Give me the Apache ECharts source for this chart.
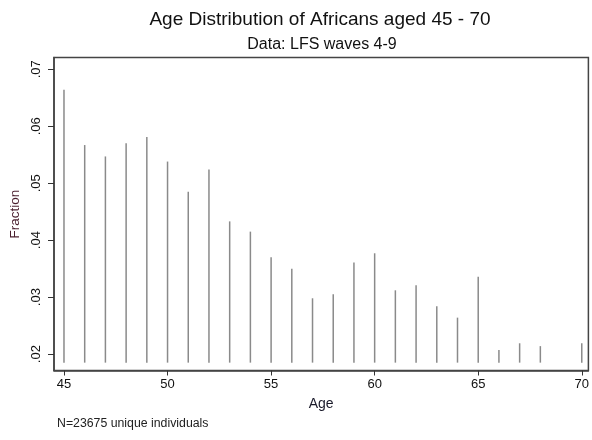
<!DOCTYPE html>
<html>
<head>
<meta charset="utf-8">
<script src="https://cdn.jsdelivr.net/npm/echarts@6/dist/echarts.min.js"></script>
<style>html,body{margin:0;padding:0;background:#fff}#c{width:592px;height:440px}</style>
</head>
<body>
<div id="c"></div>
<script>
// ---- data ----
const ages = [45,46,47,48,49,50,51,52,53,54,55,56,57,58,59,60,61,62,63,64,65,66,67,68,70];
const fractions = [0.0664,0.0567,0.0547,0.0570,0.0581,0.0538,0.0485,0.0524,0.0433,0.0415,0.0370,0.0350,0.0298,0.0305,0.0361,0.0377,0.0312,0.0321,0.0284,0.0264,0.0336,0.0207,0.0219,0.0214,0.0219];
const spikeBase = 0.0185;
const xTicks = [45,50,55,60,65,70];
const yTicks = [0.02,0.03,0.04,0.05,0.06,0.07];
const titleText = 'Age Distribution of Africans aged 45 - 70';
const subtitleText = 'Data: LFS waves 4-9';
const noteText = 'N=23675 unique individuals';

const FONT = '"Liberation Sans", Arial, sans-serif';
const chart = echarts.init(document.getElementById('c'), null, {renderer: 'canvas'});
const data = ages.map((a, i) => [a, fractions[i]]);

chart.setOption({
  animation: false,
  backgroundColor: '#fff',
  grid: {left: 54, right: 3, top: 57.5, bottom: 69.5, show: true, borderColor: '#444', borderWidth: 1.5, containLabel: false},
  graphic: [
    {type: 'text', x: 320, y: 20, style: {text: titleText, font: '19px ' + FONT, fill: '#111', textAlign: 'center', textVerticalAlign: 'middle'}},
    {type: 'text', x: 322, y: 45, style: {text: subtitleText, font: '16px ' + FONT, fill: '#111', textAlign: 'center', textVerticalAlign: 'middle'}},
    {type: 'text', x: 57, y: 424, style: {text: noteText, font: '12.3px ' + FONT, fill: '#222', textAlign: 'left', textVerticalAlign: 'middle'}}
  ],
  xAxis: {
    type: 'value', min: 44.518, max: 70.32,
    name: 'Age', nameLocation: 'middle', nameGap: 27,
    nameTextStyle: {fontFamily: FONT, fontSize: 14, color: '#1a1a2a'},
    axisLine: {show: true, lineStyle: {color: '#444', width: 1.5}},
    axisTick: {show: true, length: 5, customValues: xTicks, lineStyle: {color: '#333', width: 1}},
    axisLabel: {customValues: xTicks, fontFamily: FONT, fontSize: 13, color: '#111', margin: 7},
    splitLine: {show: false}
  },
  yAxis: {
    type: 'value', min: 0.01712, max: 0.07207,
    name: 'Fraction', nameLocation: 'middle', nameGap: 32,
    nameTextStyle: {fontFamily: FONT, fontSize: 13.5, color: '#4a1f2e'},
    axisLine: {show: true, lineStyle: {color: '#444', width: 1.5}},
    axisTick: {show: true, length: 6, customValues: yTicks, lineStyle: {color: '#333', width: 1}},
    axisLabel: {customValues: yTicks, rotate: 90, fontFamily: FONT, fontSize: 13, color: '#111', margin: 11,
      formatter: v => v.toFixed(2).replace(/^0/, '')},
    splitLine: {show: false}
  },
  series: [{
    type: 'custom',
    data: data,
    renderItem: function (params, api) {
      const x = api.value(0), y = api.value(1);
      const p1 = api.coord([x, spikeBase]);
      const p2 = api.coord([x, y]);
      return {type: 'line', shape: {x1: p1[0], y1: p1[1], x2: p2[0], y2: p2[1]},
        style: {stroke: '#8a8a8a', lineWidth: 1.5}};
    }
  }]
});
</script>
</body>
</html>
